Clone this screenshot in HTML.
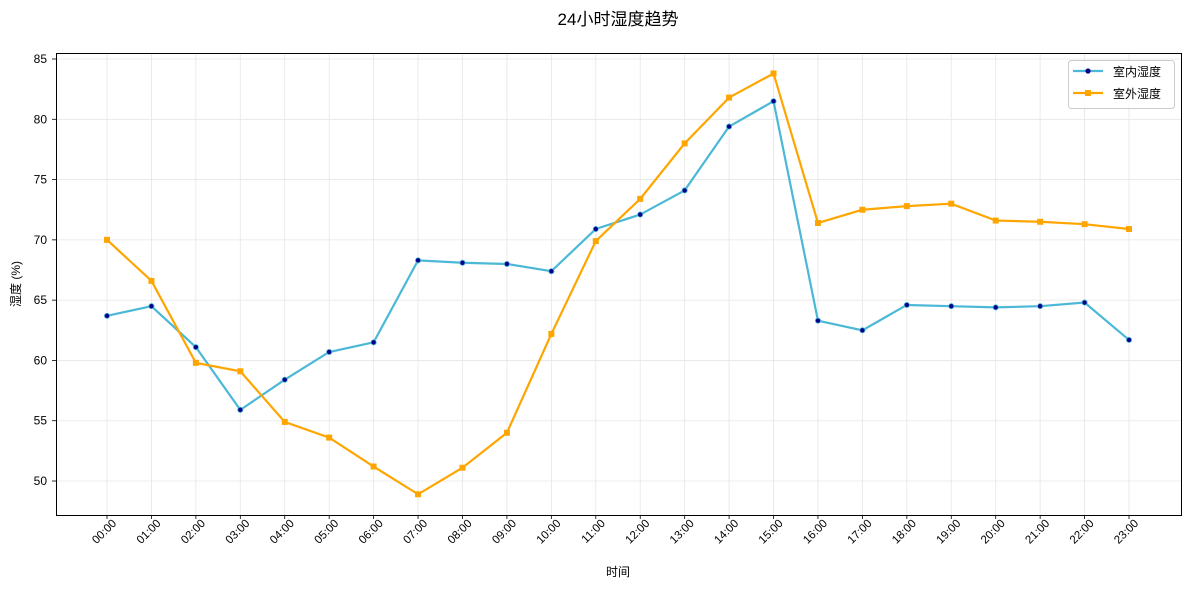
<!DOCTYPE html><html><head><meta charset="utf-8"><style>body{margin:0;background:#fff}svg{font-family:"Liberation Sans","Noto Sans CJK SC",sans-serif}</style></head><body>
<svg width="1189" height="590" xmlns="http://www.w3.org/2000/svg">
<text x="618" y="25" text-anchor="middle" font-size="17" fill="#000">24小时湿度趋势</text>
<g id="grid" stroke="#e6e6e6" stroke-width="0.8"></g>
<rect x="56.5" y="53.5" width="1125" height="462" fill="none" stroke="#000" stroke-width="1"/>
<g font-size="12" fill="#000" text-anchor="end">
<text x="47" y="485">50</text><text x="47" y="424.7">55</text><text x="47" y="364.4">60</text><text x="47" y="304.2">65</text><text x="47" y="243.9">70</text><text x="47" y="183.6">75</text><text x="47" y="123.3">80</text><text x="47" y="63">85</text>
</g>
<g id="xl" font-size="11.5" fill="#000" text-anchor="end"></g>
<text x="618" y="576" text-anchor="middle" font-size="12">时间</text>
<text transform="translate(20,284) rotate(-90)" text-anchor="middle" font-size="12">湿度 (%)</text>
<g id="series"></g>
<rect x="1068.5" y="60.5" width="106" height="48" rx="3" fill="#fff" fill-opacity="0.8" stroke="#ccc"/>
<line x1="1073" y1="71" x2="1103" y2="71" stroke="#4ab8d6" stroke-width="2.2"/><circle cx="1088" cy="71" r="2.6" fill="#00008b"/>
<line x1="1073" y1="93" x2="1103" y2="93" stroke="#ffa500" stroke-width="2.2"/><rect x="1085" y="90" width="6" height="6" fill="#ffa500"/>
<text x="1113" y="76" font-size="12">室内湿度</text><text x="1113" y="98" font-size="12">室外湿度</text>
</svg>
<script>
const a=[63.7,64.5,61.1,55.9,58.4,60.7,61.5,68.3,68.1,68.0,67.4,70.9,72.1,74.1,79.4,81.5,63.3,62.5,64.6,64.5,64.4,64.5,64.8,61.7];
const b=[70.0,66.6,59.8,59.1,54.9,53.6,51.2,48.9,51.1,54.0,62.2,69.9,73.4,78.0,81.8,83.8,71.4,72.5,72.8,73.0,71.6,71.5,71.3,70.9];
const X=i=>107+44.435*i,Y=v=>481-(v-50)*12.057;
const g=document.getElementById('grid'),xl=document.getElementById('xl'),s=document.getElementById('series');
let h='';for(let i=0;i<24;i++){h+=`<line x1="${X(i)}" y1="54" x2="${X(i)}" y2="515"/><line x1="${X(i)}" y1="515" x2="${X(i)}" y2="519" stroke="#000"/>`;}
for(let v=50;v<=85;v+=5){h+=`<line x1="57" y1="${Y(v)}" x2="1181" y2="${Y(v)}"/><line x1="52" y1="${Y(v)}" x2="56" y2="${Y(v)}" stroke="#000"/>`;}
g.innerHTML=h;
let t='';for(let i=0;i<24;i++){const x=X(i)+10,y=524;t+=`<text transform="translate(${x},${y}) rotate(-45)">${String(i).padStart(2,'0')}:00</text>`;}
xl.innerHTML=t;
let p='';
p+=`<polyline fill="none" stroke="#4ab8d6" stroke-width="2.2" points="${a.map((v,i)=>X(i)+','+Y(v)).join(' ')}"/>`;
a.forEach((v,i)=>p+=`<circle cx="${X(i)}" cy="${Y(v)}" r="2.6" fill="#00008b" stroke="#4ab8d6" stroke-width="0.8"/>`);
p+=`<polyline fill="none" stroke="#ffa500" stroke-width="2.2" points="${b.map((v,i)=>X(i)+','+Y(v)).join(' ')}"/>`;
b.forEach((v,i)=>p+=`<rect x="${X(i)-3}" y="${Y(v)-3}" width="6" height="6" fill="#ffa500"/>`);
s.innerHTML=p;
</script>
</body></html>
